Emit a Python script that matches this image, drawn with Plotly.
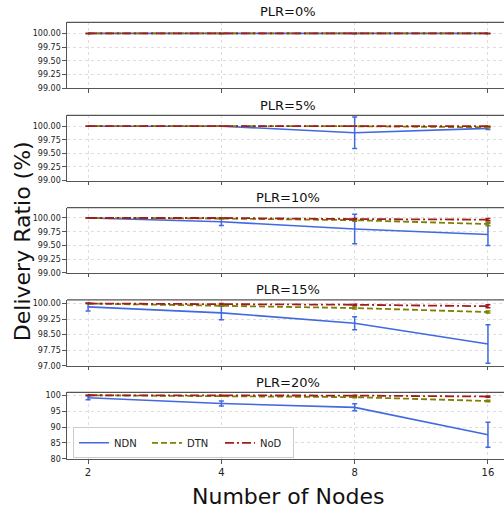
import plotly.graph_objects as go

nodes = ["2", "4", "8", "16"]
plr_titles = ["PLR=0%", "PLR=5%", "PLR=10%", "PLR=15%", "PLR=20%"]

ndn_vals = [
    [100, 100, 100, 100],
    [100, 100, 99.88, 99.96],
    [100, 99.93, 99.80, 99.70],
    [99.84, 99.55, 99.05, 98.05],
    [99.2, 97.4, 96.2, 87.6],
]
ndn_err = [
    [0, 0, 0, 0],
    [0, 0, 0.29, 0.02],
    [0, 0.065, 0.27, 0.20],
    [0.2, 0.33, 0.31, 0.93],
    [0.6, 0.8, 1.1, 3.9],
]
dtn_vals = [
    [100, 100, 100, 100],
    [100, 100, 100, 99.98],
    [100, 99.99, 99.96, 99.89],
    [100, 99.9, 99.78, 99.59],
    [100, 99.8, 99.4, 98.2],
]
dtn_err = [
    [0, 0, 0, 0],
    [0, 0, 0, 0.01],
    [0, 0.01, 0.02, 0.03],
    [0, 0.03, 0.05, 0.05],
    [0, 0.1, 0.2, 0.2],
]
nod_vals = [
    [100, 100, 100, 100],
    [100, 100, 100, 100],
    [100, 100, 99.98, 99.97],
    [100, 99.98, 99.94, 99.87],
    [100, 99.95, 99.9, 99.6],
]
nod_err = [
    [0, 0, 0, 0],
    [0, 0, 0, 0],
    [0, 0, 0.01, 0.02],
    [0, 0.02, 0.03, 0.07],
    [0, 0.05, 0.1, 0.2],
]

y_ranges = [[99, 100.2], [99, 100.2], [99, 100.19], [97, 100.18], [80, 100.9]]
y_ticks = [
    [99, 99.25, 99.5, 99.75, 100],
    [99, 99.25, 99.5, 99.75, 100],
    [99, 99.25, 99.5, 99.75, 100],
    [97, 97.75, 98.5, 99.25, 100],
    [80, 85, 90, 95, 100],
]
y_fmt = [".2f", ".2f", ".2f", ".2f", "d"]

W, H = 504, 516
panel_px = [(21.7, 88.3), (115.7, 181.7), (209, 275), (302.3, 369), (396, 463.3)]
title_px = [11, 105.5, 198.5, 291.5, 385.5]

series = [
    ("NDN", ndn_vals, ndn_err, "#4169e1", "solid", 1.6),
    ("DTN", dtn_vals, dtn_err, "#808000", "6px,3px", 1.8),
    ("NoD", nod_vals, nod_err, "#a31c1c", "9px,3px,2px,3px", 1.8),
]

fig = go.Figure()
FONT = "DejaVu Sans"
frame_color = "#555555"
grid_color = "#dedede"

x_left = 67 / W
x_rng = [-0.158, -0.158 + (W - 67) / 133.3]

annotations = []
shapes = []
for i in range(5):
    ax = "" if i == 0 else str(i + 1)
    top, bot = panel_px[i]
    dom = [1 - bot / H, 1 - top / H]
    for name, vals, errs, color, dash, lw in series:
        fig.add_trace(go.Scatter(
            x=nodes, y=vals[i], mode="lines", name=name,
            line=dict(color=color, dash=dash, width=lw),
            error_y=dict(type="data", array=errs[i], visible=True,
                         color=color, thickness=1.5, width=2.5),
            xaxis="x" + ax, yaxis="y" + ax,
            showlegend=(i == 4),
        ))
    fig.layout["xaxis" + ax] = dict(
        domain=[x_left, 1], anchor="y" + ax, type="category",
        range=x_rng, showgrid=True, gridcolor=grid_color, griddash="dot",
        gridwidth=1, showline=True, linecolor=frame_color, linewidth=1.3,
        ticks="outside", ticklen=3.5, tickcolor=frame_color,
        showticklabels=(i == 4), tickfont=dict(family=FONT, size=10, color="#222"),
        zeroline=False, fixedrange=True,
    )
    fig.layout["yaxis" + ax] = dict(
        domain=dom, anchor="x" + ax, range=y_ranges[i],
        tickvals=y_ticks[i], tickformat=y_fmt[i],
        showgrid=True, gridcolor=grid_color, griddash="dot", gridwidth=1,
        showline=True, linecolor=frame_color, linewidth=1.3,
        ticks="outside", ticklen=3.5, tickcolor=frame_color,
        tickfont=dict(family=FONT, size=8, color="#222"),
        zeroline=False, fixedrange=True,
    )
    shapes.append(dict(type="line", xref="paper", yref="paper",
                       x0=x_left, x1=1, y0=dom[1], y1=dom[1],
                       line=dict(color=frame_color, width=1.3)))
    annotations.append(dict(text=plr_titles[i], x=(67 + 508) / 2 / W,
                            y=1 - title_px[i] / H, xref="paper", yref="paper",
                            showarrow=False, xanchor="center", yanchor="middle",
                            font=dict(family=FONT, size=13, color="#111")))

annotations.append(dict(text="Number of Nodes", x=287.5 / W, y=1 - 501 / H,
                        xref="paper", yref="paper", showarrow=False,
                        xanchor="center", yanchor="middle",
                        font=dict(family=FONT, size=22, color="#111")))
annotations.append(dict(text="Delivery Ratio (%)", x=22 / W, y=1 - 243 / H,
                        xref="paper", yref="paper", showarrow=False, textangle=-90,
                        xanchor="center", yanchor="middle",
                        font=dict(family=FONT, size=22, color="#111")))

fig.update_layout(
    width=W, height=H, margin=dict(l=0, r=0, t=0, b=0),
    paper_bgcolor="white", plot_bgcolor="white",
    annotations=annotations, shapes=shapes,
    legend=dict(orientation="h", x=73 / W, y=1 - 447 / H,
                xanchor="left", yanchor="middle",
                bgcolor="rgba(255,255,255,0.85)", bordercolor="#cccccc",
                borderwidth=1, font=dict(family=FONT, size=10, color="#222"),
                entrywidth=28, entrywidthmode="pixels", itemwidth=30,
                tracegroupgap=0),
)

fig.write_html("out.html")
